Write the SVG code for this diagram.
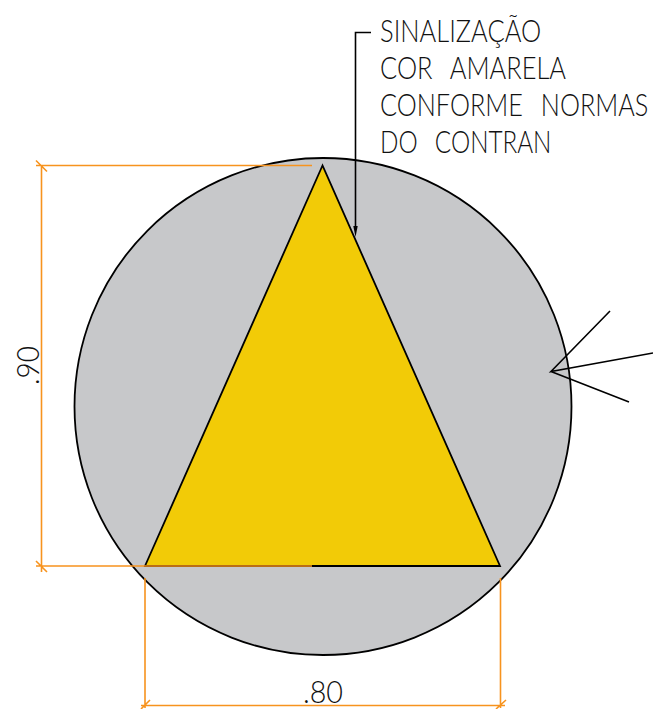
<svg xmlns="http://www.w3.org/2000/svg" width="653" height="709" viewBox="0 0 653 709">
<style>
.k{fill:none;stroke:#000;stroke-width:1.6}
.o{fill:none;stroke:#F7931E;stroke-width:1.6}
text{font-family:"Lato","Liberation Sans",sans-serif;font-weight:300;font-size:32px;fill:#111}
.w{word-spacing:14px}
</style>
<rect width="653" height="709" fill="#fff"/>
<g id="sign">
<circle cx="323" cy="406.5" r="248.5" fill="#C7C8CA" stroke="#000" stroke-width="1.8"/>
<polygon points="322.5,165.5 145,566 500,566" fill="#F2CB07" stroke="#000" stroke-width="1.8"/>
</g>
<g id="connectors">
<path class="k" d="M371 32.5H355.5V230"/>
<polygon points="353.3,226 357.7,226 355.5,237" fill="#000"/>
<path class="k" d="M610 311L551 371.5L653 353M551 371.5L629 402"/>
</g>
<g id="dimensions">
<path class="o" d="M312 165.5H36M36 160.5L47 171.5M41.5 165.5V572M312 566H36M36 561L47 572"/>
<path class="o" d="M145 578V708M500.5 578V708M141 705.5H505M141 709L150 700M496 709L506 700"/>
</g>
<g id="label-sinalizacao">
<text class="w" transform="translate(380 41.5) scale(.79 1)" textLength="204" lengthAdjust="spacingAndGlyphs">SINALIZAÇÃO</text>
<text class="w" transform="translate(380 79) scale(.79 1)" textLength="235.500" lengthAdjust="spacingAndGlyphs">COR AMARELA</text>
<text class="w" transform="translate(380 116) scale(.79 1)">CONFORME NORMAS</text>
<text class="w" transform="translate(380 153) scale(.79 1)" textLength="217" lengthAdjust="spacingAndGlyphs">DO CONTRAN</text>
</g>
<g id="dim-labels">
<text x="303" y="703" textLength="40" lengthAdjust="spacingAndGlyphs">.80</text>
<text transform="translate(38.500 385) rotate(-90)" textLength="39" lengthAdjust="spacingAndGlyphs">.90</text>
</g>
</svg>
